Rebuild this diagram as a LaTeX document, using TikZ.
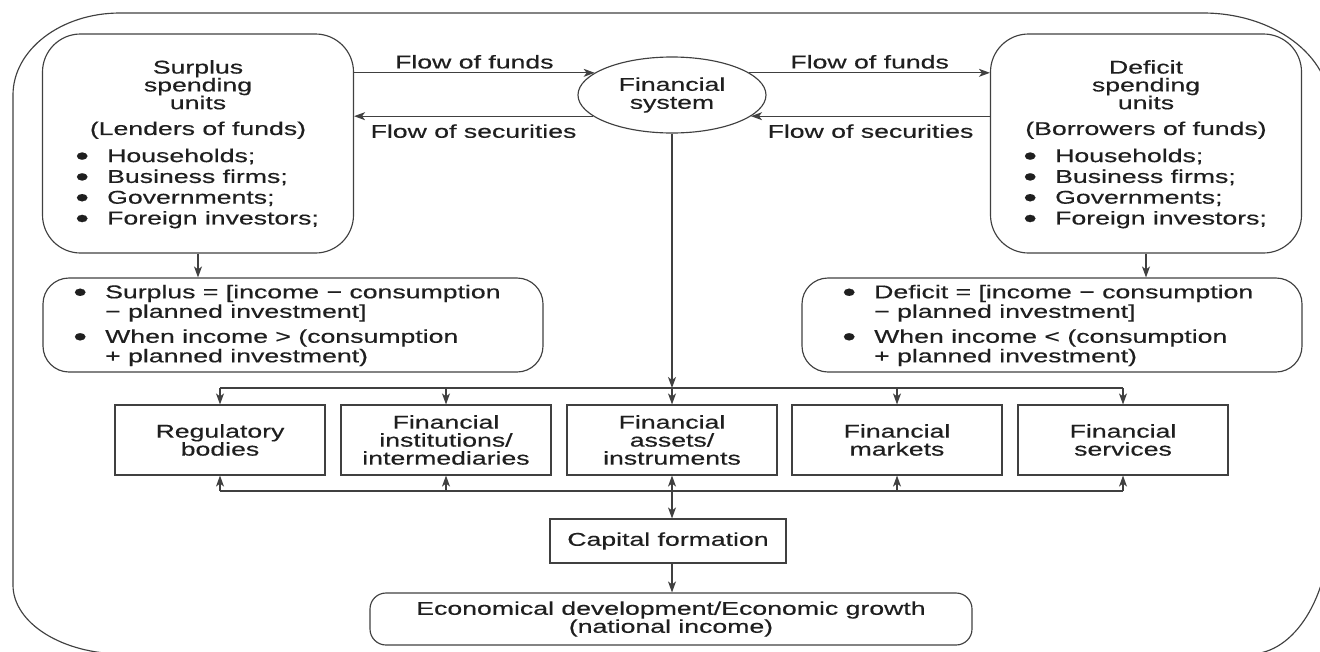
\documentclass[tikz,border=0pt]{standalone}
\usepackage{fontspec}
\usepackage{graphicx}
\setmainfont{Liberation Sans}[FakeStretch=1.44, FakeBold=0.4]
\usetikzlibrary{shapes.geometric, arrows.meta}

% bullet centred on the line start, then the item text
\newcommand{\dotmark}{\makebox[0pt][c]{\smash{\raisebox{-2.9pt}{\scalebox{1.45}{\textbullet}}}}}
\newcommand{\itm}[1]{\dotmark\hspace*{25pt}#1}
\newcommand{\cont}[1]{\hspace*{25pt}#1}

\begin{document}
\begin{tikzpicture}[x=1pt, y=-1pt,
  every node/.style={font=\fontsize{18.5}{20.8}\selectfont, text=black!88, inner sep=0pt},
  ln/.style={draw=black!75, line width=1.15pt},
  arr/.style={ln, -{Stealth[length=11pt,width=8pt,inset=3pt]}},
  darr/.style={ln, {Stealth[length=11pt,width=8pt,inset=3pt]}-{Stealth[length=11pt,width=8pt,inset=3pt]}},
  unitbox/.style={ln, rounded corners=38pt, minimum width=311pt, minimum height=219pt},
  calcbox/.style={ln, rounded corners=26pt, minimum width=500pt, minimum height=94pt},
  partbox/.style={ln, minimum width=210pt, minimum height=70pt, align=center,
                  font=\fontsize{18.5}{18}\selectfont},
  titletext/.style={align=center, font=\fontsize{18.5}{17.8}\selectfont},
  listtext/.style={align=left, anchor=west},
  calctext/.style={align=left, anchor=west, font=\fontsize{18.5}{19.5}\selectfont},
]
\useasboundingbox (0,0) rectangle (1320,651);
\clip (0,0) rectangle (1320,651);

% outer frame
\draw[ln] (13,95) .. controls (13,49.7) and (60.9,13) .. (120,13)
  -- (1203,13) .. controls (1273.1,13) and (1330,55.1) .. (1330,107)
  -- (1330,526) .. controls (1330,596.7) and (1294.2,654) .. (1250,654)
  -- (123,654) .. controls (62.2,654) and (13,623.1) .. (13,585) -- cycle;

% spending units
\node[unitbox] (surplus) at (198,143.5) {};
\node[titletext] (stitle) at (198,99.5) {Surplus\\spending\\units\\[8pt](Lenders of funds)};
\node[listtext] (slist) at (82,188.5) {\itm{Households;}\\\itm{Business firms;}\\\itm{Governments;}\\\itm{Foreign investors;}};

\node[unitbox] (deficit) at (1146,143.5) {};
\node[titletext] (dtitle) at (1146,99.5) {Deficit\\spending\\units\\[8pt](Borrowers of funds)};
\node[listtext] (dlist) at (1030,188.5) {\itm{Households;}\\\itm{Business firms;}\\\itm{Governments;}\\\itm{Foreign investors;}};

% surplus / deficit definitions
\node[calcbox] (scalc) at (293,325) {};
\node[calctext] (scalctext) at (80,325.5) {\itm{Surplus = [income − consumption}\\\cont{− planned investment]}\\[5.5pt]\itm{When income > (consumption}\\\cont{+ planned investment)}};

\node[calcbox] (dcalc) at (1052,325) {};
\node[calctext] (dcalctext) at (849,325.5) {\itm{Deficit = [income − consumption}\\\cont{− planned investment]}\\[5.5pt]\itm{When income < (consumption}\\\cont{+ planned investment)}};

% financial system
\node[ln, ellipse, minimum width=188pt, minimum height=76pt, align=center,
      font=\fontsize{18.5}{18}\selectfont] (fsys) at (672,95) {Financial\\system};

% components
\node[partbox] (reg) at (220,440) {Regulatory\\bodies};
\node[partbox] (fi)  at (446,440) {Financial\\institutions/\\intermediaries};
\node[partbox] (fa)  at (672,440) {Financial\\assets/\\instruments};
\node[partbox] (fm)  at (897,440) {Financial\\markets};
\node[partbox] (fsv) at (1123,440) {Financial\\services};

\node[partbox, minimum width=236pt, minimum height=44pt] (cap) at (668,541) {Capital formation};
\node[ln, rounded corners=16pt, minimum width=602pt, minimum height=52pt, align=center,
      font=\fontsize{18.5}{18}\selectfont] (econ) at (671,619)
      {Economical development/Economic growth\\(national income)};

% flows between units and the financial system
\draw[arr] (surplus.east |- fsys.164) -- node[yshift=11pt] (ff1) {Flow of funds} (fsys.164);
\draw[arr] (fsys.195) -- node[yshift=-15pt] (fs1) {Flow of securities} (surplus.east |- fsys.195);
\draw[arr] (fsys.16) -- node[yshift=11pt] (ff2) {Flow of funds} (deficit.west |- fsys.16);
\draw[arr] (deficit.west |- fsys.-15) -- node[yshift=-15pt] (fs2) {Flow of securities} (fsys.-15);

\draw[arr] (surplus.south) -- (scalc.north -| surplus.south);
\draw[arr] (deficit.south) -- (dcalc.north -| deficit.south);

% distribution bus above the components
\coordinate (tl) at (220,388);
\coordinate (tr) at (1123,388);
\draw[ln] (tl) -- (tr);
\draw[arr] (fsys.south) -- (fa.north |- tl);
\foreach \n in {reg,fi,fa,fm,fsv} \draw[arr] (\n.north |- tl) -- (\n.north);

% collecting bus below the components
\coordinate (bl) at (220,491);
\coordinate (br) at (1123,491);
\draw[ln] (bl) -- (br);
\foreach \n in {reg,fi,fm,fsv} \draw[arr] (\n.south |- bl) -- (\n.south);
\draw[darr] (fa.south) -- (fa.south |- cap.north);
\draw[arr] (fa.south |- cap.south) -- (fa.south |- econ.north);
\end{tikzpicture}
\end{document}
